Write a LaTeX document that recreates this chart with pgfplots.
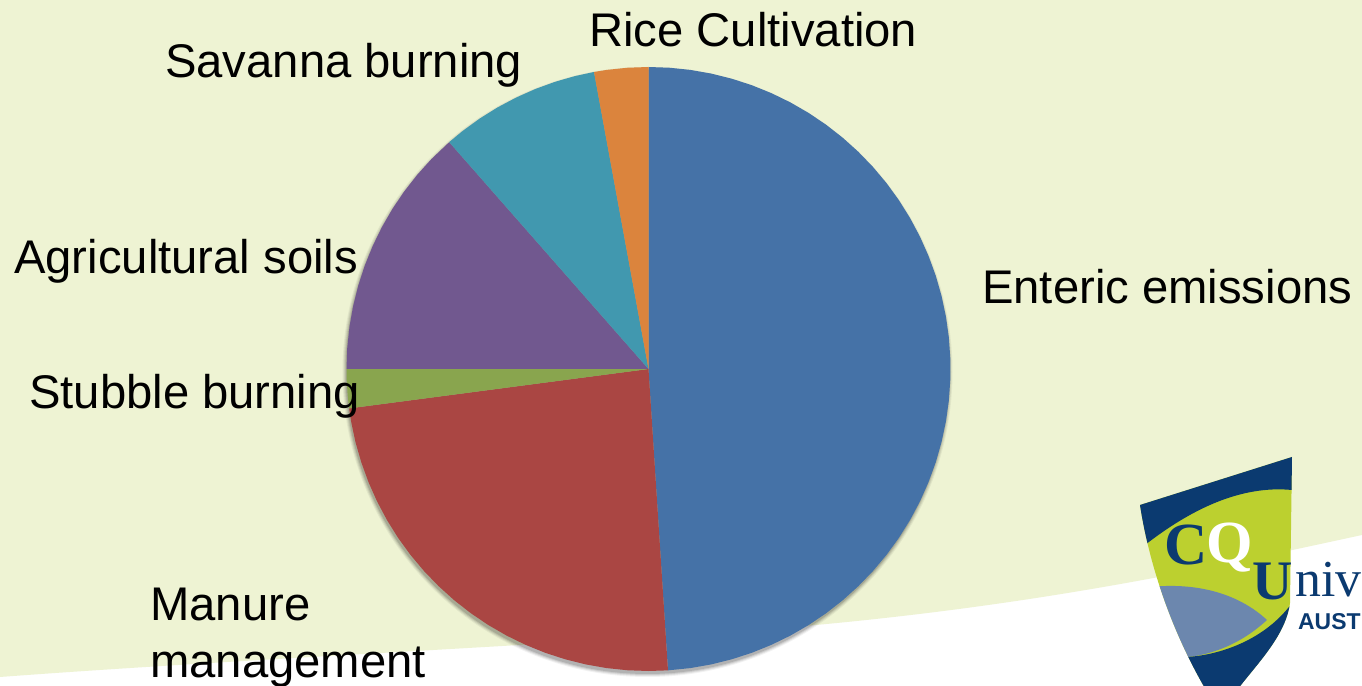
\documentclass[border=0pt]{standalone}
\usepackage{fontspec}
\setmainfont{Liberation Sans}
\newfontfamily\logoserif{Liberation Serif}
\usepackage{pgfplots}
\usepgfplotslibrary{polar}
\pgfplotsset{compat=1.18}
\definecolor{bgc}{HTML}{EEF3D3}
\definecolor{s1}{HTML}{4572A7}
\definecolor{s2}{HTML}{AA4643}
\definecolor{s3}{HTML}{89A54E}
\definecolor{s4}{HTML}{71588F}
\definecolor{s5}{HTML}{4198AF}
\definecolor{s6}{HTML}{DB843D}
\definecolor{navy}{HTML}{0B3A70}
\definecolor{lime}{HTML}{BCD02F}
\definecolor{sblue}{HTML}{6C87AE}
\newcommand{\lab}[3]{\node[anchor=base west,inner sep=0pt,font=\fontsize{47.4pt}{57pt}\selectfont] at (#1,#2) {#3};}
\begin{document}
\begin{tikzpicture}
\useasboundingbox (0,0) rectangle (1362bp,686bp);
\clip (0,0) rectangle (1362bp,686bp);
\begin{scope}[x=1bp,y=-1bp,shift={(0bp,686bp)}]
\fill[white] (0,0) rectangle (1362,686);
\fill[bgc] (0,0) -- (1362,0) -- (1362,535) .. controls (1200,570) and (1000,615) .. (700,634) .. controls (450,650) and (200,662) .. (0,677) -- cycle;
% logo
\begin{scope}
\clip (1140,505) -- (1292,457) -- (1290,603) .. controls (1285,640) and (1250,670) .. (1230,700) -- (1212,700) .. controls (1175,640) and (1150,570) .. (1140,505) -- cycle;
\fill[lime] (1130,450) rectangle (1300,700);
\fill[navy] (1130,505) -- (1292,450) -- (1292,490) .. controls (1240,485) and (1190,510) .. (1145,545) -- (1130,550) -- cycle;
\fill[sblue] (1150,587) .. controls (1200,582) and (1240,595) .. (1267,620) .. controls (1240,645) and (1210,655) .. (1187,657) -- (1150,660) -- cycle;
\fill[navy] (1187,657) .. controls (1220,655) and (1265,640) .. (1292,603) -- (1292,700) -- (1187,700) -- cycle;
\end{scope}
\node[inner sep=0pt,text=navy,font=\logoserif\bfseries\fontsize{60pt}{60pt}\selectfont] at (1186,545) {C};
\node[inner sep=0pt,text=white,font=\logoserif\bfseries\fontsize{60pt}{60pt}\selectfont] at (1230,548) {Q};
\node[anchor=base west,inner sep=0pt,text=navy,font=\logoserif\bfseries\fontsize{56pt}{56pt}\selectfont] at (1252,600) {U};
\node[anchor=base west,inner sep=0pt,text=navy,font=\logoserif\fontsize{52pt}{52pt}\selectfont] at (1295,597) {niv};
\node[anchor=base west,inner sep=0pt,text=navy,font=\bfseries\fontsize{23pt}{23pt}\selectfont] at (1298,630) {AUST};
% soft shadow under pie
\foreach \r/\o in {305/0.05,304/0.07,303/0.09,302/0.12}
  \fill[black,opacity=\o] (647.5,372) circle (\r);
\end{scope}
\begin{polaraxis}[
  at={(648.5bp,317bp)},anchor=center,
  scale only axis,width=604bp,height=604bp,
  xmin=0,xmax=360,ymin=0,ymax=1,
  hide axis,clip=false,
]
% Enteric emissions
\addplot[fill=s1,draw=none,mark=none] coordinates {(0,0) (90,1) (86,1) (82,1) (78,1) (74,1) (70,1) (66,1) (62,1) (58,1) (54,1) (50,1) (46,1) (42,1) (38,1) (34,1) (30,1) (26,1) (22,1) (18,1) (14,1) (10,1) (6,1) (2,1) (-2,1) (-6,1) (-10,1) (-14,1) (-18,1) (-22,1) (-26,1) (-30,1) (-34,1) (-38,1) (-42,1) (-46,1) (-50,1) (-54,1) (-58,1) (-62,1) (-66,1) (-70,1) (-74,1) (-78,1) (-82,1) (-86.3,1)} -- cycle;
% Manure management
\addplot[fill=s2,draw=none,mark=none] coordinates {(0,0) (-86.3,1) (-90,1) (-94,1) (-98,1) (-102,1) (-106,1) (-110,1) (-114,1) (-118,1) (-122,1) (-126,1) (-130,1) (-134,1) (-138,1) (-142,1) (-146,1) (-150,1) (-154,1) (-158,1) (-162,1) (-166,1) (-170,1) (-172.5,1)} -- cycle;
% Stubble burning
\addplot[fill=s3,draw=none,mark=none] coordinates {(0,0) (-172.5,1) (-175,1) (-178,1) (-180,1)} -- cycle;
% Agricultural soils
\addplot[fill=s4,draw=none,mark=none] coordinates {(0,0) (-180,1) (-184,1) (-188,1) (-192,1) (-196,1) (-200,1) (-204,1) (-208,1) (-212,1) (-216,1) (-220,1) (-224,1) (-228.7,1)} -- cycle;
% Savanna burning
\addplot[fill=s5,draw=none,mark=none] coordinates {(0,0) (-228.7,1) (-232,1) (-236,1) (-240,1) (-244,1) (-248,1) (-252,1) (-256,1) (-259.6,1)} -- cycle;
% Rice Cultivation
\addplot[fill=s6,draw=none,mark=none] coordinates {(0,0) (-259.6,1) (-262,1) (-266,1) (-270,1)} -- cycle;
\end{polaraxis}
\begin{scope}[x=1bp,y=-1bp,shift={(0bp,686bp)}]
\lab{589}{47}{Rice Cultivation}
\lab{165}{78}{Savanna burning}
\lab{14}{274}{Agricultural soils}
\lab{982}{304}{Enteric emissions}
\lab{29}{409}{Stubble burning}
\lab{150}{621}{Manure}
\lab{150}{678}{management}
\end{scope}
\end{tikzpicture}
\end{document}
